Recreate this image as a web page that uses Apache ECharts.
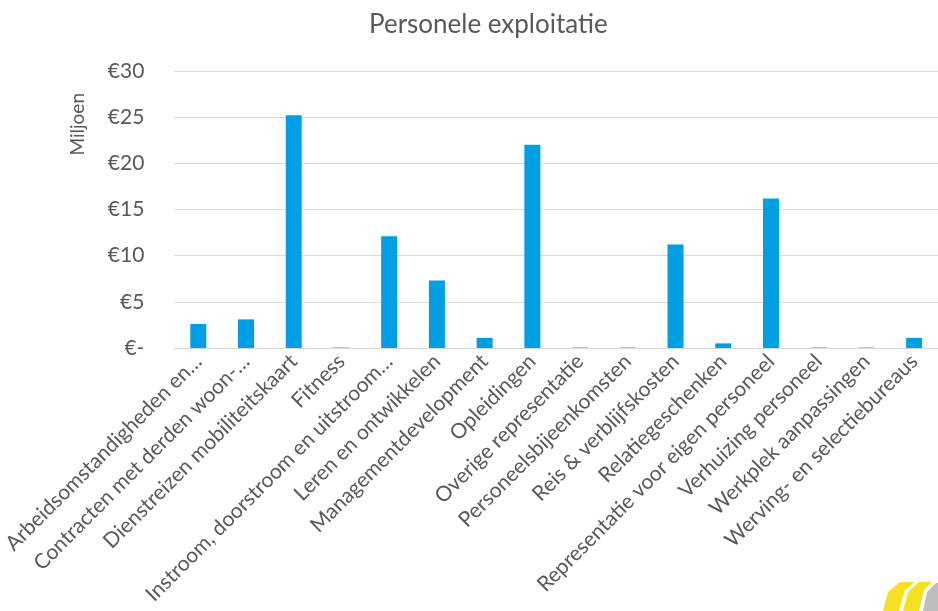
<!DOCTYPE html>
<html><head><meta charset="utf-8">
<script src="https://cdn.jsdelivr.net/npm/echarts@6/dist/echarts.min.js"></script>
<style>html,body{margin:0;padding:0;background:#fff}#c{width:938px;height:611px}</style>
</head><body><div id="c"></div>
<script>
const categories = [
  "Arbeidsomstandigheden en…",
  "Contracten met derden woon-…",
  "Dienstreizen mobiliteitskaart",
  "Fitness",
  "Instroom, doorstroom en uitstroom…",
  "Leren en ontwikkelen",
  "Managementdevelopment",
  "Opleidingen",
  "Overige representatie",
  "Personeelsbijeenkomsten",
  "Reis & verblijfskosten",
  "Relatiegeschenken",
  "Representatie voor eigen personeel",
  "Verhuizing personeel",
  "Werkplek aanpassingen",
  "Werving- en selectiebureaus"
];
const values = [2.6, 3.1, 25.2, 0.05, 12.1, 7.3, 1.1, 22.0, 0.05, 0.05, 11.2, 0.5, 16.2, 0.05, 0.05, 1.1];
const yTicks = [0, 5, 10, 15, 20, 25, 30];
const title = "Personele exploitatie";
const unitLabel = "Miljoen";

const font = "Lato, 'Open Sans', sans-serif";
const chart = echarts.init(document.getElementById('c'), null, {renderer: 'canvas'});
chart.setOption({
  animation: false,
  backgroundColor: '#fff',
  title: {
    text: title, left: 364, top: 7,
    textStyle: {fontFamily: font, fontSize: 26, fontWeight: 'normal', color: '#595959'}
  },
  grid: {left: 170, right: -10, top: 71, bottom: 263, containLabel: false},
  xAxis: {
    type: 'category', data: categories,
    axisLine: {lineStyle: {color: '#d9d9d9', width: 1}},
    axisTick: {show: false},
    axisLabel: {rotate: 45, interval: 0, margin: 10, fontFamily: font, fontSize: 21, color: '#595959'}
  },
  yAxis: {
    type: 'value', min: 0, max: 30, interval: 5,
    axisLine: {show: false}, axisTick: {show: false},
    splitLine: {lineStyle: {color: '#d9d9d9', width: 1}},
    axisLabel: {
      margin: 30, fontFamily: font, fontSize: 21, color: '#595959',
      formatter: v => yTicks.includes(v) ? (v === 0 ? '€-' : '€' + v) : ''
    }
  },
  series: [{
    type: 'bar', data: values, barWidth: 16,
    itemStyle: {color: '#009fe3'}
  }],
  graphic: [
    {type: 'text', left: 68, top: 93, rotation: Math.PI/2,
     style: {text: unitLabel, font: "19px Lato, 'Open Sans', sans-serif", fill: '#595959'}},
    {type: 'polygon', shape: {points: [[883,611],[888,592],[900,582],[915,582],[905,590],[899,611]]}, style: {fill: '#f5e021'}},
    {type: 'polygon', shape: {points: [[903,611],[908,592],[919,582],[932,582],[924,590],[919,611]]}, style: {fill: '#f5e021'}},
    {type: 'polygon', shape: {points: [[923,611],[927,592],[936,583],[938,583],[938,611]]}, style: {fill: '#bdbdbd'}}
  ]
});
</script></body></html>
